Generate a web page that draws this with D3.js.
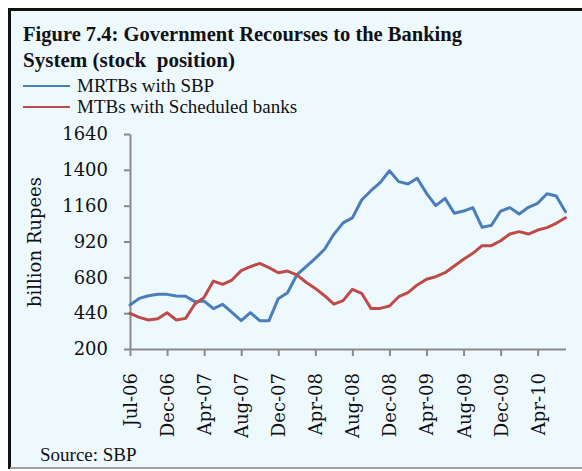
<!DOCTYPE html>
<html>
<head>
<meta charset="utf-8">
<script src="https://cdn.jsdelivr.net/npm/d3@7"></script>
<style>
  body { margin: 0; background: #ffffff; }
  svg { display: block; }
</style>
</head>
<body>
<svg id="chart" width="582" height="471"></svg>
<script>
// Stock position, billion Rupees, one value per observation (Jul-06 .. Jun-10)
const mrtbsWithSBP = [
  495, 539, 557, 566, 566, 555, 553, 517, 521, 470, 499, 446,
  390, 443, 390, 390, 537, 577, 696, 751, 807, 868, 968, 1045,
  1078, 1198, 1260, 1314, 1394, 1321, 1305, 1343, 1243, 1160, 1209, 1109,
  1124, 1147, 1015, 1028, 1124, 1147, 1104, 1149, 1176, 1240, 1225, 1120
];
const mtbsWithBanks = [
  439, 412, 394, 403, 443, 394, 405, 501, 546, 655, 633, 662,
  725, 751, 774, 745, 711, 722, 696, 647, 606, 557, 501, 524,
  600, 573, 472, 472, 488, 550, 577, 629, 667, 684, 711, 756,
  801, 841, 892, 892, 925, 970, 986, 970, 997, 1013, 1042, 1079
];
// Category labels, one on every fourth observation
const xTickLabels = ["Jul-06", "Dec-06", "Apr-07", "Aug-07", "Dec-07", "Apr-08",
                     "Aug-08", "Dec-08", "Apr-09", "Aug-09", "Dec-09", "Apr-10"];
const xTickEvery = 4;
const yTickValues = [200, 440, 680, 920, 1160, 1400, 1640];
const seriesNames = ["MRTBs with SBP", "MTBs with Scheduled banks"];
const seriesColors = ["#4a7ebb", "#be4b48"];

const svg = d3.select("#chart");

// Frame
svg.append("rect").attr("x", 10).attr("y", 10).attr("width", 572).attr("height", 458)
  .attr("fill", "#eef9fe");
svg.append("line").attr("x1", 9.5).attr("x2", 9.5).attr("y1", 8).attr("y2", 469)
  .attr("stroke", "#111").attr("stroke-width", 3);
svg.append("line").attr("x1", 8).attr("x2", 582).attr("y1", 9.5).attr("y2", 9.5)
  .attr("stroke", "#111").attr("stroke-width", 3);
svg.append("line").attr("x1", 10).attr("x2", 582).attr("y1", 468).attr("y2", 468)
  .attr("stroke", "#a0a0a0").attr("stroke-width", 2);

// Title
const serif = "'Liberation Serif', 'Times New Roman', serif";
svg.append("text").attr("x", 23).attr("y", 41)
  .attr("font-family", serif).attr("font-weight", "bold").attr("font-size", 20.5)
  .attr("fill", "#111").attr("textLength", 439).attr("lengthAdjust", "spacingAndGlyphs")
  .text("Figure 7.4: Government Recourses to the Banking");
svg.append("text").attr("x", 23).attr("y", 66.5)
  .attr("font-family", serif).attr("font-weight", "bold").attr("font-size", 20.5)
  .attr("fill", "#111").attr("textLength", 212).attr("lengthAdjust", "spacingAndGlyphs")
  .style("white-space", "pre")
  .text("System (stock  position)");

// Legend
const legendY = [86, 107];
seriesNames.forEach((name, i) => {
  svg.append("line").attr("x1", 23).attr("x2", 70).attr("y1", legendY[i]).attr("y2", legendY[i])
    .attr("stroke", seriesColors[i]).attr("stroke-width", 2);
  svg.append("text").attr("x", 77).attr("y", legendY[i] + 6)
    .attr("font-family", serif).attr("font-size", 19).attr("fill", "#111")
    .text(name);
});

// Scales
const n = mrtbsWithSBP.length;
const x = d3.scaleLinear().domain([0, n - 1]).range([130, 565.5]);
const y = d3.scaleLinear().domain([200, 1640]).range([349, 134]);

const tickFont = "'DejaVu Serif', serif";
const axisColor = "#8a8a8a";

// Y axis
const yAxis = svg.append("g").attr("transform", "translate(130,0)")
  .call(d3.axisLeft(y).tickValues(yTickValues).tickFormat(d3.format("d"))
    .tickSize(6).tickSizeOuter(0).tickPadding(16));
yAxis.select(".domain").attr("stroke", axisColor).attr("stroke-width", 2);
yAxis.selectAll(".tick line").attr("stroke", axisColor).attr("stroke-width", 2);
yAxis.selectAll(".tick text").attr("font-family", tickFont).attr("font-size", 18)
  .attr("fill", "#111");

// X axis
const xTickIdx = d3.range(0, n, xTickEvery);
const xAxis = svg.append("g").attr("transform", "translate(0,349)")
  .call(d3.axisBottom(x).tickValues(xTickIdx)
    .tickFormat((d, i) => xTickLabels[i]).tickSize(7).tickSizeOuter(0));
xAxis.select(".domain").attr("stroke", axisColor).attr("stroke-width", 2);
xAxis.selectAll(".tick line").attr("stroke", axisColor).attr("stroke-width", 2);
xAxis.selectAll(".tick text")
  .attr("font-family", tickFont).attr("font-size", 18).attr("fill", "#111")
  .attr("transform", "rotate(-90)")
  .attr("text-anchor", "end")
  .attr("x", -24).attr("y", 0).attr("dy", "0.36em");

// Y axis title
svg.append("text")
  .attr("transform", "translate(41,242) rotate(-90)")
  .attr("text-anchor", "middle")
  .attr("font-family", tickFont).attr("font-size", 18).attr("fill", "#111")
  .text("billion Rupees");

// Series lines
const line = d3.line().x((d, i) => x(i)).y(d => y(d));
[mrtbsWithSBP, mtbsWithBanks].forEach((vals, i) => {
  svg.append("path").datum(vals)
    .attr("d", line)
    .attr("fill", "none")
    .attr("stroke", seriesColors[i])
    .attr("stroke-width", 3)
    .attr("stroke-linejoin", "round")
    .attr("stroke-linecap", "round");
});

// Source note
svg.append("text").attr("x", 40).attr("y", 461)
  .attr("font-family", serif).attr("font-size", 19).attr("fill", "#111")
  .text("Source: SBP");
</script>
</body>
</html>
